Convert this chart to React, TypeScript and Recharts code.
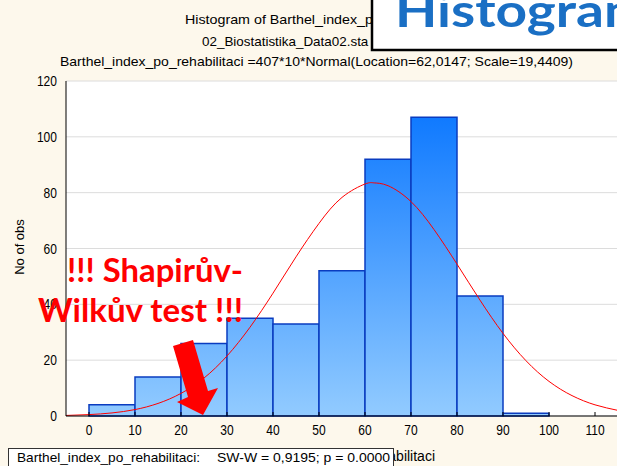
import { ComposedChart, Bar, Line, XAxis, YAxis, CartesianGrid } from "recharts";

// histogram bins of Barthel_index_po_rehabilitaci (n = 407)
const binLabels = ["0-10", "10-20", "20-30", "30-40", "40-50", "50-60", "60-70", "70-80", "80-90", "90-100", "100-110"];
const binCounts = [4, 14, 26, 35, 33, 52, 92, 107, 43, 1, 0];

// fitted normal curve
const curveX = [-5, 0, 5, 10, 15, 20, 25, 30, 35, 40, 45, 50, 55, 60, 62, 65, 70, 75, 80, 85, 90, 95, 100, 105, 110, 115];
const curveY = [0.2, 0.5, 1.1, 2.3, 4.5, 8.1, 13.6, 21.5, 31.8, 44, 57, 69, 78.3, 83.1, 83.5, 82.5, 76.8, 66.8, 54.4, 41.5, 29.6, 19.8, 12.4, 7.3, 4, 2];

const xTicks = [0, 10, 20, 30, 40, 50, 60, 70, 80, 90, 100, 110];
const yTicks = [0, 20, 40, 60, 80, 100, 120];

const bins = binLabels.map((bin, i) => ({ bin, count: binCounts[i] }));
const curve = curveX.map((x, i) => ({ x, y: curveY[i] }));

const FONT = "'Liberation Sans', Arial, sans-serif";

function XTick({ x, y, payload }: any) {
  return (
    <text transform={`translate(${x},${y + 9}) scale(0.86,1)`} textAnchor="middle" fontSize={14} fontFamily={FONT} fill="#000">
      {payload.value}
    </text>
  );
}

function YTick({ x, y, payload }: any) {
  return (
    <text transform={`translate(${x},${y + 5}) scale(0.86,1)`} textAnchor="end" fontSize={14} fontFamily={FONT} fill="#000">
      {payload.value}
    </text>
  );
}

export default function App() {
  return (
    <div style={{ position: "absolute", left: 0, top: 0, width: 617, height: 466, overflow: "hidden", background: "#FDF8EC" }}>
      <ComposedChart
        width={630}
        height={466}
        data={bins}
        margin={{ top: 81, right: 12, bottom: 20, left: 0 }}
        barCategoryGap={0}
        barGap={0}
      >
        <defs>
          <linearGradient id="barFill" gradientUnits="userSpaceOnUse" x1="0" y1="81" x2="0" y2="416">
            <stop offset="0" stopColor="#0070FF" />
            <stop offset="1" stopColor="#92CBFF" />
          </linearGradient>
        </defs>
        <CartesianGrid vertical={false} stroke="#DCDCDC" fill="#FFFFFF" />
        <XAxis
          type="number"
          dataKey="x"
          domain={[-5, 115]}
          ticks={xTicks}
          allowDataOverflow
          height={30}
          tickSize={-4}
          tickMargin={14}
          stroke="#000"
          tick={<XTick />}
        />
        <XAxis xAxisId="bins" type="category" dataKey="bin" hide padding={{ left: 23, right: 23 }} />
        <XAxis
          xAxisId="top"
          orientation="top"
          type="number"
          domain={[-5, 115]}
          ticks={xTicks}
          allowDataOverflow
          height={0}
          tick={false}
          tickSize={-4}
          stroke="#000"
        />
        <YAxis
          domain={[0, 120]}
          ticks={yTicks}
          width={66}
          tickLine={false}
          tickSize={0}
          tickMargin={9}
          stroke="#000"
          tick={<YTick />}
        />
        <Bar xAxisId="bins" dataKey="count" fill="url(#barFill)" stroke="#0A3CC0" strokeWidth={1.5} isAnimationActive={false} />
        <Line data={curve} dataKey="y" type="natural" stroke="#FF0000" strokeWidth={1} dot={false} isAnimationActive={false} />
      </ComposedChart>

      <svg width={617} height={466} style={{ position: "absolute", left: 0, top: 0, pointerEvents: "none" }}>
        <g fontFamily={FONT} fontSize={13} fill="#000">
          <text x={185} y={24} textLength={272} lengthAdjust="spacingAndGlyphs">Histogram of Barthel_index_po_rehabilitaci</text>
          <text x={202} y={46} textLength={226} lengthAdjust="spacingAndGlyphs">02_Biostatistika_Data02.sta 10v*407c</text>
          <text x={60} y={66} textLength={513} lengthAdjust="spacingAndGlyphs">
            Barthel_index_po_rehabilitaci =407*10*Normal(Location=62,0147; Scale=19,4409)
          </text>
          <text transform="translate(24,247) rotate(-90)" textAnchor="middle">No of obs</text>
          <text x={435} y={461} textAnchor="end" fontSize={14}>Barthel_index_po_rehabilitaci</text>
        </g>

        <rect x={372} y={-5} width={260} height={55} fill="#FFFFFF" stroke="#000" strokeWidth={2.5} />
        <text x={395} y={27} fontFamily="Lato, sans-serif" fontWeight={700} fontSize={46} fill="#1A6FC4" textLength={255} lengthAdjust="spacingAndGlyphs">
          Histogram
        </text>

        <g fontFamily="Lato, sans-serif" fontWeight={700} fontSize={32} fill="#FF0000">
          <text x={67} y={282} textLength={176} lengthAdjust="spacingAndGlyphs">!!! Shapirův-</text>
          <text x={38} y={322} textLength={205} lengthAdjust="spacingAndGlyphs">Wilkův test !!!</text>
        </g>
        <polygon points="173,346 193,340 208,391 218,388 203,415 177,402 188,397" fill="#FF0000" />

        <rect x={8.5} y={448.5} width={385} height={25} fill="#FFFFFF" stroke="#333" strokeWidth={1} />
        <g fontFamily={FONT} fontSize={13} fill="#000">
          <text x={17} y={462} textLength={183} lengthAdjust="spacingAndGlyphs">Barthel_index_po_rehabilitaci:</text>
          <text x={217} y={462} textLength={173} lengthAdjust="spacingAndGlyphs">SW-W = 0,9195; p = 0.0000</text>
        </g>
      </svg>
    </div>
  );
}
